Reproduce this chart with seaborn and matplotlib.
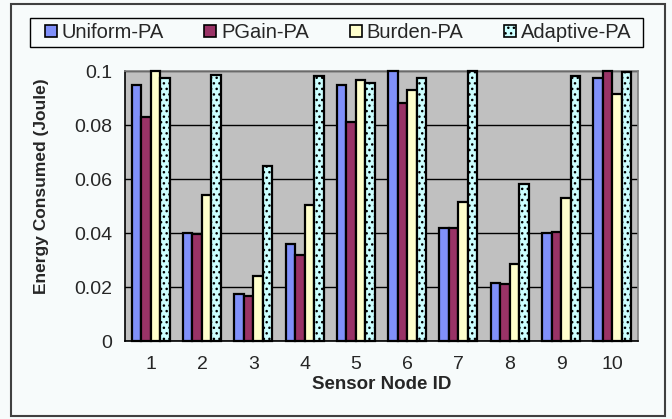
import matplotlib
matplotlib.use("Agg")
import matplotlib.pyplot as plt
import seaborn as sns
import pandas as pd
from matplotlib.patches import Rectangle, Patch

nodes = ["1", "2", "3", "4", "5", "6", "7", "8", "9", "10"]
methods = ["Uniform-PA", "PGain-PA", "Burden-PA", "Adaptive-PA"]
uniform = [0.095, 0.040, 0.0175, 0.036, 0.095, 0.100, 0.042, 0.0215, 0.040, 0.0975]
pgain = [0.083, 0.0395, 0.0165, 0.032, 0.081, 0.088, 0.042, 0.021, 0.0405, 0.100]
burden = [0.100, 0.054, 0.024, 0.0505, 0.0965, 0.093, 0.0515, 0.0285, 0.053, 0.0915]
adaptive = [0.0975, 0.0985, 0.065, 0.098, 0.0955, 0.0975, 0.100, 0.058, 0.098, 0.0995]
yticks = [0, 0.02, 0.04, 0.06, 0.08, 0.1]
ytick_labels = ["0", "0.02", "0.04", "0.06", "0.08", "0.1"]

colors = ["#8090FA", "#993366", "#FFFFCC", "#CCFFFF"]

rows = []
for m, vals in zip(methods, [uniform, pgain, burden, adaptive]):
    for n, v in zip(nodes, vals):
        rows.append({"node": n, "method": m, "energy": v})
df = pd.DataFrame(rows)

sns.set_style("white")
plt.rcParams["font.family"] = ["Liberation Sans", "DejaVu Sans"]
plt.rcParams["hatch.linewidth"] = 1.0
plt.rcParams["hatch.color"] = "black"

W, H = 672, 419
bg = "#F7FBFB"
fig = plt.figure(figsize=(W / 100, H / 100), dpi=100, facecolor=bg)
ax = fig.add_axes([125 / W, 1 - 341 / H, (638 - 125) / W, (341 - 71) / H])
ax.set_facecolor("#C0C0C0")

sns.barplot(data=df, x="node", y="energy", hue="method", order=nodes,
            hue_order=methods, palette=colors, width=0.74, gap=0,
            edgecolor="black", linewidth=1.6, ax=ax, legend=False,
            saturation=1, errorbar=None, zorder=3)

for bar in ax.containers[3]:
    bar.set_hatch("...")
for cont in ax.containers:
    for bar in cont:
        bar.set_clip_on(False)

ax.set_ylim(0, 0.1)
ax.set_xlim(-0.5, 9.5)
ax.set_yticks(yticks)
ax.set_yticklabels(ytick_labels)
ax.yaxis.grid(True, color="black", linewidth=1.0, zorder=0)
ax.set_axisbelow(True)

ax.set_xticks([i - 0.5 for i in range(11)], minor=True)
ax.tick_params(axis="x", which="major", length=0, pad=11, labelsize=14)
ax.tick_params(axis="x", which="minor", length=5, width=1, color="black", direction="out")
ax.tick_params(axis="y", length=5, width=1, color="black", direction="out", pad=4, labelsize=14)

for s in ["left", "bottom"]:
    ax.spines[s].set_color("black")
    ax.spines[s].set_linewidth(1.2)
for s in ["top", "right"]:
    ax.spines[s].set_color("#808080")
    ax.spines[s].set_linewidth(1.2)

ax.set_xlabel("Sensor Node ID", fontsize=13.5, fontweight="bold", labelpad=2)
ax.set_ylabel("Energy Consumed (Joule)", fontsize=12.5, fontweight="bold")
ax.yaxis.set_label_coords((49 - 125) / (638 - 125), 1 - (186 - 71) / (341 - 71))

handles = [Patch(facecolor=c, edgecolor="black", linewidth=1.2, hatch=("..." if i == 3 else None))
           for i, c in enumerate(colors)]
leg = fig.legend(handles, methods, loc="center",
                 bbox_to_anchor=(338 / W, 1 - 32.5 / H),
                 ncol=4, frameon=False, fontsize=14.5,
                 handlelength=0.6, handleheight=0.6, handletextpad=0.25,
                 columnspacing=2.0, borderaxespad=0, borderpad=0)

fig.patches.append(Rectangle((30 / W, 1 - 47 / H), (643 - 30) / W, 29 / H,
                             transform=fig.transFigure, fill=False,
                             edgecolor="black", linewidth=1.0))
fig.patches.append(Rectangle((11 / W, 3 / H), (665 - 11) / W, (415 - 3) / H,
                             transform=fig.transFigure, fill=False,
                             edgecolor="#404040", linewidth=1.5))

fig.savefig("out.png", dpi=100, facecolor=fig.get_facecolor())
